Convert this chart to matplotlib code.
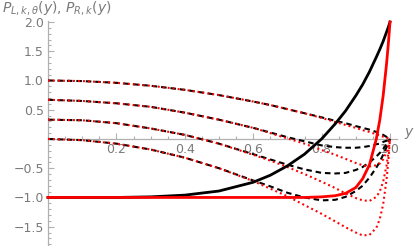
import matplotlib
matplotlib.use("Agg")
import matplotlib.pyplot as plt
from matplotlib.ticker import MultipleLocator, FixedLocator

# sample positions along y
y = [0, 0.1, 0.2, 0.3, 0.4, 0.5, 0.6, 0.65, 0.7, 0.75, 0.8, 0.84, 0.87,
     0.9, 0.92, 0.94, 0.96, 0.97, 0.98, 0.99, 0.995, 1.0]

# P_L,k,theta(y) (black dashed), four theta values
pl_black_1 = [1.00, 0.99, 0.96, 0.91, 0.84, 0.75, 0.64, 0.58, 0.51, 0.44, 0.37, 0.31, 0.27,
              0.22, 0.19, 0.16, 0.12, 0.10, 0.07, 0.035, 0.018, 0.0]
pl_black_2 = [0.67, 0.65, 0.61, 0.55, 0.45, 0.33, 0.19, 0.11, 0.03, -0.04, -0.11, -0.14, -0.15,
              -0.15, -0.14, -0.12, -0.09, -0.08, -0.05, -0.03, -0.02, 0.0]
pl_black_3 = [0.33, 0.32, 0.27, 0.18, 0.07, -0.08, -0.26, -0.35, -0.44, -0.52, -0.58, -0.59, -0.58,
              -0.53, -0.48, -0.40, -0.30, -0.24, -0.17, -0.09, -0.05, 0.0]
pl_black_4 = [0.00, -0.02, -0.08, -0.18, -0.32, -0.50, -0.71, -0.81, -0.92, -1.00, -1.05, -1.04, -0.99,
              -0.89, -0.80, -0.66, -0.49, -0.39, -0.27, -0.14, -0.07, 0.0]

# P_L,k,theta(y) (red dotted), four theta values
pl_red_1 = [1.00, 0.99, 0.96, 0.91, 0.84, 0.75, 0.64, 0.58, 0.51, 0.44, 0.36, 0.29, 0.24,
            0.19, 0.15, 0.12, 0.08, 0.06, 0.04, 0.02, 0.01, 0.0]
pl_red_2 = [0.67, 0.65, 0.61, 0.55, 0.45, 0.33, 0.19, 0.10, 0.01, -0.08, -0.19, -0.27, -0.34,
            -0.41, -0.45, -0.47, -0.45, -0.42, -0.35, -0.22, -0.12, 0.0]
pl_red_3 = [0.33, 0.32, 0.27, 0.18, 0.07, -0.08, -0.27, -0.37, -0.48, -0.60, -0.73, -0.84, -0.93,
            -1.01, -1.05, -1.06, -0.99, -0.90, -0.73, -0.45, -0.25, 0.0]
pl_red_4 = [0.00, -0.02, -0.08, -0.18, -0.32, -0.50, -0.72, -0.85, -0.98, -1.13, -1.28, -1.41, -1.51,
            -1.60, -1.65, -1.64, -1.52, -1.37, -1.12, -0.69, -0.38, 0.0]

# P_R,k(y) solid curves
pr_black = [-1.00, -1.00, -1.00, -0.99, -0.96, -0.89, -0.74, -0.62, -0.46, -0.26, 0.00, 0.26, 0.48,
            0.74, 0.93, 1.15, 1.40, 1.53, 1.67, 1.83, 1.91, 2.00]
pr_red = [-1.00, -1.00, -1.00, -1.00, -1.00, -1.00, -1.00, -1.00, -1.00, -1.00, -0.99, -0.97, -0.93,
          -0.83, -0.68, -0.44, 0.00, 0.32, 0.74, 1.29, 1.62, 2.00]

x_ticks = [0.2, 0.4, 0.6, 0.8, 1.0]
x_labels = ["0.2", "0.4", "0.6", "0.8", "1.0"]
y_ticks = [-1.5, -1.0, -0.5, 0.5, 1.0, 1.5, 2.0]
y_labels = ["\u22121.5", "\u22121.0", "\u22120.5", "0.5", "1.0", "1.5", "2.0"]

plt.rcParams['lines.scale_dashes'] = False
W, H = 415, 246
fig = plt.figure(figsize=(W / 100, H / 100), dpi=100)
left_px, right_px = 48, 48 + 342 * 1.02
top_px = 139 - 58.5 * 2.02
ax = fig.add_axes([left_px / W, 0.0, (right_px - left_px) / W, (H - top_px) / H])
ax.set_xlim(0, 1.02)
ax.set_ylim(-1.83, 2.02)

axis_col = '#b0b0b0'
text_col = '#7a7a7a'

for s in ['top', 'right']:
    ax.spines[s].set_visible(False)
ax.spines['left'].set_position(('data', 0))
ax.spines['bottom'].set_position(('data', 0))
for s in ['left', 'bottom']:
    ax.spines[s].set_color(axis_col)
    ax.spines[s].set_linewidth(0.9)

ax.xaxis.set_major_locator(FixedLocator(x_ticks))
ax.set_xticklabels(x_labels)
ax.xaxis.set_minor_locator(MultipleLocator(0.05))
ax.yaxis.set_major_locator(FixedLocator(y_ticks))
ax.set_yticklabels(y_labels)
ax.yaxis.set_minor_locator(MultipleLocator(0.1))
ax.tick_params(which='both', direction='in', color=axis_col, width=0.8,
               labelcolor=text_col, labelsize=9)
ax.tick_params(which='major', length=4)
ax.tick_params(which='minor', length=2)
ax.tick_params(axis='x', pad=3)
ax.tick_params(axis='y', pad=3)

dash_style = (0, (4.0, 2.8))
dot_style = (0, (1.4, 2.2))
for s in [pl_black_1, pl_black_2, pl_black_3, pl_black_4]:
    ax.plot(y, s, color='black', lw=1.5, linestyle=dash_style, zorder=3)
for s in [pl_red_1, pl_red_2, pl_red_3, pl_red_4]:
    ax.plot(y, s, color='#ff0000', lw=1.5, linestyle=dot_style, zorder=4)
ax.plot(y, pr_black, color='black', lw=2.0, zorder=5, clip_on=False)
ax.plot(y, pr_red, color='#ff0000', lw=2.0, zorder=6, clip_on=False)

fig.text(2 / W, 1 - 12 / H, r"$P_{L,k,\theta}(y)$, $P_{R,k}(y)$", color=text_col,
         fontsize=10, ha='left', va='baseline')
fig.text(404 / W, 1 - 136 / H, r"$y$", color=text_col, fontsize=10, ha='left', va='baseline')

fig.savefig("out.png", dpi=100)
